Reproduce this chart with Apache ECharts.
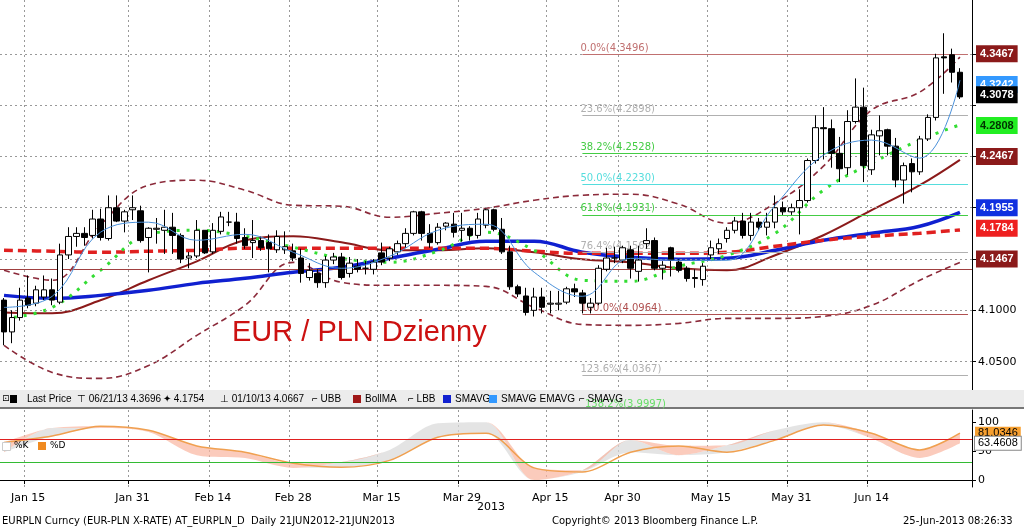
<!DOCTYPE html>
<html><head><meta charset="utf-8">
<script src="https://cdn.jsdelivr.net/npm/echarts@6/dist/echarts.min.js"></script>
<style>html,body{margin:0;padding:0;background:#fff}#c{width:1024px;height:530px}</style>
</head><body><div id="c"></div>
<script>
const opens=[4.110,4.079,4.093,4.112,4.107,4.113,4.120,4.108,4.154,4.172,4.175,4.173,4.189,4.170,4.200,4.187,4.198,4.197,4.171,4.179,4.178,4.181,4.173,4.151,4.153,4.178,4.157,4.177,4.186,4.186,4.171,4.166,4.168,4.166,4.159,4.159,4.158,4.151,4.132,4.136,4.127,4.149,4.152,4.136,4.143,4.141,4.140,4.156,4.151,4.157,4.165,4.175,4.196,4.175,4.166,4.182,4.184,4.178,4.180,4.173,4.183,4.198,4.179,4.157,4.123,4.114,4.100,4.113,4.106,4.106,4.108,4.121,4.117,4.103,4.107,4.140,4.151,4.149,4.159,4.138,4.165,4.168,4.141,4.161,4.147,4.141,4.131,4.130,4.154,4.160,4.170,4.178,4.187,4.173,4.186,4.181,4.186,4.200,4.196,4.200,4.207,4.246,4.278,4.277,4.253,4.239,4.284,4.298,4.237,4.270,4.276,4.260,4.227,4.243,4.235,4.267,4.288,4.347,4.349,4.332];
const closes=[4.079,4.093,4.110,4.105,4.120,4.120,4.110,4.154,4.172,4.175,4.171,4.189,4.171,4.200,4.187,4.196,4.200,4.168,4.180,4.180,4.181,4.173,4.150,4.153,4.178,4.156,4.178,4.191,4.186,4.170,4.163,4.168,4.161,4.160,4.172,4.162,4.151,4.136,4.139,4.127,4.149,4.152,4.132,4.146,4.140,4.141,4.147,4.147,4.160,4.165,4.175,4.196,4.175,4.166,4.181,4.185,4.176,4.180,4.173,4.189,4.198,4.179,4.157,4.123,4.116,4.098,4.113,4.103,4.107,4.107,4.121,4.118,4.107,4.107,4.141,4.151,4.151,4.161,4.141,4.149,4.168,4.141,4.144,4.149,4.139,4.131,4.132,4.143,4.161,4.165,4.178,4.187,4.173,4.186,4.181,4.186,4.200,4.196,4.200,4.207,4.246,4.278,4.277,4.253,4.238,4.284,4.298,4.241,4.271,4.275,4.260,4.227,4.241,4.235,4.267,4.288,4.346,4.346,4.332,4.308];
const lows=[4.066,4.068,4.090,4.102,4.104,4.110,4.105,4.106,4.150,4.162,4.163,4.170,4.168,4.168,4.186,4.176,4.188,4.166,4.137,4.165,4.155,4.155,4.146,4.141,4.151,4.155,4.155,4.174,4.182,4.165,4.160,4.151,4.158,4.137,4.156,4.155,4.148,4.127,4.129,4.122,4.122,4.145,4.130,4.132,4.137,4.135,4.135,4.144,4.148,4.154,4.161,4.173,4.168,4.161,4.164,4.178,4.171,4.167,4.168,4.170,4.180,4.177,4.155,4.120,4.113,4.095,4.094,4.097,4.097,4.100,4.106,4.113,4.097,4.097,4.105,4.138,4.146,4.146,4.131,4.128,4.160,4.139,4.130,4.133,4.137,4.128,4.122,4.124,4.150,4.155,4.166,4.175,4.170,4.168,4.178,4.173,4.180,4.193,4.193,4.174,4.205,4.243,4.247,4.239,4.225,4.232,4.282,4.225,4.232,4.251,4.251,4.220,4.204,4.215,4.232,4.265,4.285,4.311,4.322,4.306];
const highs=[4.112,4.100,4.122,4.134,4.124,4.134,4.131,4.165,4.181,4.181,4.181,4.198,4.199,4.212,4.212,4.198,4.212,4.202,4.181,4.190,4.198,4.195,4.175,4.157,4.188,4.178,4.185,4.196,4.196,4.195,4.180,4.188,4.172,4.174,4.178,4.177,4.165,4.160,4.146,4.140,4.153,4.156,4.156,4.152,4.150,4.148,4.150,4.166,4.162,4.168,4.180,4.197,4.197,4.184,4.185,4.186,4.195,4.195,4.182,4.195,4.199,4.199,4.190,4.163,4.125,4.122,4.122,4.122,4.119,4.119,4.123,4.126,4.120,4.112,4.144,4.161,4.162,4.163,4.163,4.163,4.180,4.171,4.148,4.162,4.150,4.143,4.140,4.146,4.168,4.170,4.181,4.191,4.195,4.195,4.190,4.195,4.212,4.206,4.204,4.218,4.248,4.290,4.298,4.286,4.269,4.295,4.326,4.317,4.276,4.290,4.277,4.268,4.244,4.248,4.270,4.291,4.350,4.370,4.355,4.336];

const indIdx=[0,6,12,18,24,30,36,42,48,54,60,66,72,78,84,90,96,102,108,114,119];
const ubb=[4.139,4.1293,4.1829,4.222,4.2268,4.2171,4.2024,4.2015,4.1907,4.1946,4.1995,4.2073,4.2122,4.2132,4.2034,4.1849,4.2044,4.2405,4.2951,4.3127,4.3467];
const lbb=[4.0659,4.0395,4.0337,4.0463,4.0756,4.1049,4.1468,4.1273,4.1244,4.1244,4.1234,4.1029,4.0863,4.0854,4.0873,4.0922,4.0922,4.0941,4.1049,4.1293,4.1467];
const bollMa=[4.098,4.0971,4.1098,4.1293,4.1478,4.1683,4.1722,4.1663,4.1585,4.1585,4.1605,4.1566,4.1498,4.1468,4.141,4.139,4.1537,4.1732,4.1976,4.222,4.2467];
const smaBlue=[4.1146,4.1117,4.1146,4.1195,4.1263,4.1312,4.1371,4.142,4.1507,4.1595,4.1673,4.1673,4.1566,4.1517,4.1498,4.1507,4.1585,4.1683,4.1751,4.182,4.1955];
const smaLight=[4.1029,4.1137,4.1761,4.1859,4.1683,4.1741,4.1566,4.141,4.1527,4.178,4.1839,4.1371,4.1137,4.1507,4.1488,4.1488,4.2024,4.2512,4.2659,4.2483,4.3242];
const emaRed=[4.1585,4.1576,4.1566,4.1576,4.1585,4.1605,4.1605,4.1605,4.1605,4.1605,4.1605,4.1576,4.1556,4.1556,4.1556,4.1566,4.1624,4.1683,4.1722,4.1751,4.1784];
const smaGreen=[4.0922,4.1029,4.139,4.1741,4.178,4.1722,4.1615,4.1507,4.1468,4.1576,4.1761,4.1585,4.1293,4.1283,4.1429,4.1537,4.1751,4.2171,4.2434,4.2659,4.2808];
const stochK=[48,90,90,83,43,38,21,31,52,98,100,0,17,69,43,60,86,100,72,38,63.46];
const stochD=[65,76,93,86,59,48,29,22,34,74,81,21,14,48,59,48,69,95,81,52,81.03];

const tickIdx=[3,16,26,36,47,57,68,77,88,98,108];
const tickText=['Jan 15','Jan 31','Feb 14','Feb 28','Mar 15','Mar 29','Apr 15','Apr 30','May 15','May 31','Jun 14'];
const fibNames=['0.0%','23.6%','38.2%','50.0%','61.8%','76.4%','100.0%','123.6%'];
const fibValues=[4.3496,4.2898,4.2528,4.2230,4.1931,4.1562,4.0964,4.0367];
const fibColors=['#c07070','#b0b0b0','#44cc44','#55dddd','#44cc44','#b0b0b0','#b05050','#b0b0b0'];
const tagValues=[4.3467,4.3242,4.3078,4.2808,4.2467,4.1955,4.1784,4.1467];
const tagBg=['#8b1a1a','#3399ff','#000000','#22ee22','#8b1a1a','#1030e0','#ee2020','#8b1a1a'];
const tagFg=['#fff','#fff','#fff','#003300','#fff','#fff','#fff','#fff'];
const gridValues=[4.05,4.10,4.15,4.20,4.25,4.30,4.35];

const N=121;
const cats=[];for(let i=0;i<N;i++){const k=tickIdx.indexOf(i);cats.push(k>=0?tickText[k]:'');}
const pair=a=>indIdx.map((x,i)=>[x,a[i]]);
const candle=opens.map((o,i)=>[o,closes[i],lows[i],highs[i]]);
const base=stochK.map((k,i)=>[indIdx[i],Math.min(k,stochD[i])]);
const grayPart=stochK.map((k,i)=>[indIdx[i],Math.max(k-stochD[i],0)]);
const pinkPart=stochK.map((k,i)=>[indIdx[i],Math.max(stochD[i]-k,0)]);

const ff='"DejaVu Sans", Verdana, sans-serif';
const fl='"Liberation Sans", Arial, sans-serif';
const clear='rgba(0,0,0,0)';
const split={show:true,interval:(i,v)=>v!=='',lineStyle:{color:'#999',type:[2,3],width:1}};
function line(data,color,width,type,z,extra){return Object.assign({type:'line',data:pair(data),xAxisIndex:0,yAxisIndex:0,showSymbol:false,smooth:0.4,lineStyle:{color,width,type},z:z||3,silent:true},extra||{});}

const fibLines=fibValues.map((v,i)=>[{coord:[72,v],lineStyle:{color:fibColors[i],type:'solid',width:1},label:{show:true,position:'insideStartTop',formatter:fibNames[i]+'('+v.toFixed(4)+')',color:fibColors[i],fontSize:10,fontFamily:ff,distance:[-2,1]}},{coord:[120,v]}]);
const gridLines=gridValues.map(v=>({yAxis:v,lineStyle:{color:'#999',type:[2,3],width:1},label:{show:false}}));
const tagLines=tagValues.map((v,i)=>({yAxis:v,lineStyle:{color:clear,width:1,type:'solid'},label:{show:true,position:'end',distance:4,formatter:v.toFixed(4),backgroundColor:tagBg[i],color:tagFg[i],fontSize:11,fontWeight:'bold',fontFamily:fl,padding:[3,4]}}));

const chart=echarts.init(document.getElementById('c'));
chart.setOption({
 animation:false,
 grid:[{left:0,right:52,top:0,height:390},{left:0,right:52,top:410,height:77}],
 xAxis:[
  {type:'category',data:cats,gridIndex:0,axisLabel:{show:false},axisTick:{show:false},axisLine:{show:false},splitLine:split},
  {type:'category',data:cats,gridIndex:1,axisLabel:{show:true,interval:0,color:'#000',fontSize:11,fontFamily:ff,margin:6},axisTick:{show:true,interval:(i,v)=>v!=='',length:4,lineStyle:{color:'#000'}},axisLine:{show:true,lineStyle:{color:'#000'}},splitLine:split}
 ],
 yAxis:[
  {type:'value',gridIndex:0,position:'right',min:4.0224,max:4.4024,axisLine:{show:true,lineStyle:{color:'#000'}},axisTick:{show:true,customValues:[4.05,4.10,4.15,4.20,4.25,4.30,4.35],length:4},axisLabel:{customValues:[4.05,4.10],formatter:v=>v.toFixed(4),color:'#000',fontSize:11,fontFamily:ff,margin:6},splitLine:{show:false}},
  {type:'value',gridIndex:1,position:'right',min:-12,max:121,axisLine:{show:true,lineStyle:{color:'#000'}},axisTick:{show:true,customValues:[0,50,100],length:4},axisLabel:{customValues:[0,50,100],color:'#000',fontSize:11,fontFamily:ff,margin:6},splitLine:{show:false}}
 ],
 series:[
  {type:'line',data:[],xAxisIndex:0,yAxisIndex:0,markLine:{silent:true,symbol:'none',data:gridLines.concat([{yAxis:4.137,lineStyle:{color:'#a04040',type:'solid',width:1},label:{show:false}}]).concat(fibLines)},z:1},
  line(ubb,'#8b2a3a',1.6,[6,4]),
  line(lbb,'#8b2a3a',1.6,[6,4]),
  line(bollMa,'#8b1a1a',2,'solid'),
  line(smaBlue,'#1020d0',3.5,'solid',4),
  line(emaRed,'#e02020',3.5,[9,5],4),
  line(smaGreen,'#33dd33',3,[3,7],4),
  {type:'candlestick',data:candle,xAxisIndex:0,yAxisIndex:0,barWidth:6,itemStyle:{color:'#ffffff',color0:'#000000',borderColor:'#000000',borderColor0:'#000000',borderWidth:1},z:5,silent:true},
  line(smaLight,'#4a90d9',1,'solid',6),
  {type:'line',data:[],xAxisIndex:0,yAxisIndex:0,z:30,markLine:{silent:true,symbol:'none',data:tagLines}},
  {type:'line',data:base,xAxisIndex:1,yAxisIndex:1,stack:'s',showSymbol:false,smooth:0.3,lineStyle:{width:0},z:2},
  {type:'line',data:grayPart,xAxisIndex:1,yAxisIndex:1,stack:'s',showSymbol:false,smooth:0.3,lineStyle:{width:0},areaStyle:{color:'#d8d8d8'},z:2},
  {type:'line',data:pinkPart,xAxisIndex:1,yAxisIndex:1,stack:'s',showSymbol:false,smooth:0.3,lineStyle:{width:0},areaStyle:{color:'#f9b5a0'},z:2},
  {type:'line',data:pair(stochD),xAxisIndex:1,yAxisIndex:1,showSymbol:false,smooth:0.3,lineStyle:{color:'#f0a050',width:1.5},z:4,
   markLine:{silent:true,symbol:'none',data:[
    {yAxis:70,lineStyle:{color:'#e02020',type:'solid',width:1},label:{show:false}},
    {yAxis:30,lineStyle:{color:'#33bb33',type:'solid',width:1},label:{show:false}},
    {yAxis:81.03,lineStyle:{color:clear,width:1},label:{show:true,position:'end',distance:3,formatter:'81.0346',backgroundColor:'#f7a030',color:'#000',fontSize:11,fontFamily:fl,padding:[1,3]}},
    {yAxis:63.46,lineStyle:{color:clear,width:1},label:{show:true,position:'end',distance:3,formatter:'63.4608',backgroundColor:'#fff',borderColor:'#888',borderWidth:1,color:'#000',fontSize:11,fontFamily:fl,padding:[1,3]}}
   ]}}
 ],
 graphic:[
  {type:'rect',left:0,top:390,shape:{width:1024,height:18},style:{fill:'#ececec'},z:20},
  {type:'rect',left:0,top:407,shape:{width:1024,height:2},style:{fill:'#777'},z:20},
  {type:'text',left:585,top:399,style:{text:'138.2%(3.9997)',fill:'#66dd66',font:'10px '+ff},z:21},
  {type:'text',left:2,top:394,style:{text:'⊡',fill:'#000',font:'9px '+ff},z:21},
  {type:'rect',left:10,top:395,shape:{width:7,height:8},style:{fill:'#000'},z:21},
  {type:'text',left:27,top:394,style:{text:'Last Price',fill:'#000',font:'10px '+fl},z:21},
  {type:'text',left:77,top:394,style:{text:'⊤ 06/21/13 4.3696',fill:'#000',font:'10px '+fl},z:21},
  {type:'text',left:163,top:394,style:{text:'✦ 4.1754',fill:'#000',font:'10px '+fl},z:21},
  {type:'text',left:220,top:394,style:{text:'⊥ 01/10/13 4.0667',fill:'#000',font:'10px '+fl},z:21},
  {type:'text',left:312,top:394,style:{text:'⌐ UBB',fill:'#000',font:'10px '+fl},z:21},
  {type:'rect',left:353,top:395,shape:{width:8,height:8},style:{fill:'#a01818'},z:21},
  {type:'text',left:365,top:394,style:{text:'BollMA',fill:'#000',font:'10px '+fl},z:21},
  {type:'text',left:408,top:394,style:{text:'⌐ LBB',fill:'#000',font:'10px '+fl},z:21},
  {type:'rect',left:443,top:395,shape:{width:8,height:8},style:{fill:'#1020d0'},z:21},
  {type:'text',left:455,top:394,style:{text:'SMAVG',fill:'#000',font:'10px '+fl},z:21},
  {type:'rect',left:489,top:395,shape:{width:8,height:8},style:{fill:'#3399ff'},z:21},
  {type:'text',left:501,top:394,style:{text:'SMAVG',fill:'#000',font:'10px '+fl},z:21},
  {type:'text',left:531,top:394,style:{text:'⌐ EMAVG',fill:'#000',font:'10px '+fl},z:21},
  {type:'text',left:579,top:394,style:{text:'⌐ SMAVG',fill:'#000',font:'10px '+fl},z:21},
  {type:'rect',left:2,top:442,shape:{width:8,height:8},style:{fill:'#fff',stroke:'#ccc'},z:21},
  {type:'text',left:14,top:441,style:{text:'%K',fill:'#000',font:'9px '+ff},z:21},
  {type:'rect',left:38,top:442,shape:{width:8,height:8},style:{fill:'#f08a20'},z:21},
  {type:'text',left:50,top:441,style:{text:'%D',fill:'#000',font:'9px '+ff},z:21},
  {type:'text',left:232,top:318,style:{text:'EUR / PLN Dzienny',fill:'#cc1111',font:'29px '+fl},z:21},
  {type:'text',left:477,top:502,style:{text:'2013',fill:'#000',font:'11px '+ff},z:21},
  {type:'text',left:2,top:516,style:{text:'EURPLN Curncy (EUR-PLN X-RATE) AT_EURPLN_D  Daily 21JUN2012-21JUN2013',fill:'#000',font:'10px '+ff},z:21},
  {type:'text',left:552,top:516,style:{text:'Copyright© 2013 Bloomberg Finance L.P.',fill:'#000',font:'10px '+ff},z:21},
  {type:'text',left:903,top:516,style:{text:'25-Jun-2013 08:26:33',fill:'#000',font:'10px '+ff},z:21}
 ]
});
</script></body></html>
